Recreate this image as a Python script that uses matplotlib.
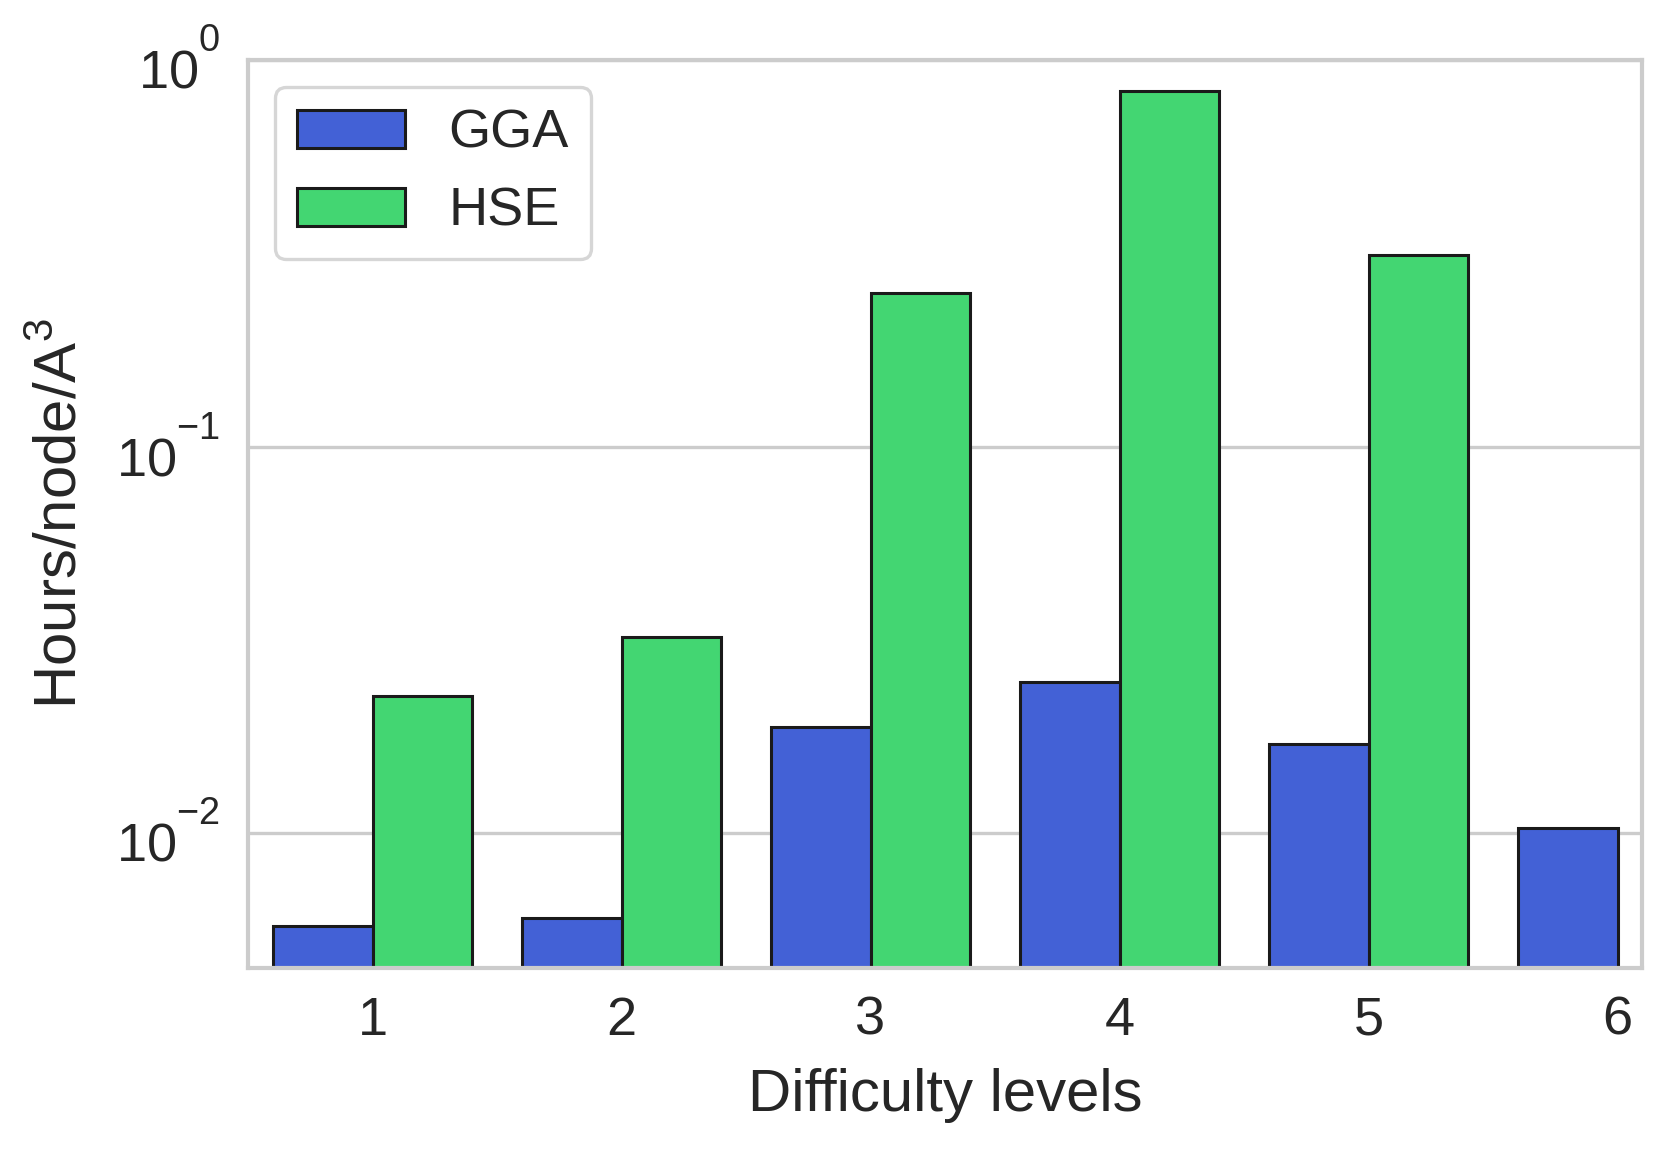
import matplotlib
matplotlib.use("Agg")
import matplotlib.pyplot as plt
import numpy as np

# Tick-label exponents sit higher than matplotlib's default in the reference
try:
    from matplotlib import _mathtext

    class _HighSup(_mathtext.FontConstantsBase):
        sup1 = 1.35

    _mathtext._font_constant_mapping["Liberation Sans"] = _HighSup
except Exception:
    pass

levels = ["1", "2", "3", "4", "5", "6"]
gga = [0.00575, 0.00603, 0.0188, 0.0246, 0.0170, 0.0103]
hse = [0.0226, 0.0321, 0.250, 0.83, 0.313, np.nan]
series_names = ["GGA", "HSE"]
colors = ["#4361D6", "#43D672"]

plt.rcParams["font.family"] = ["Liberation Sans", "DejaVu Sans"]
plt.rcParams["mathtext.fontset"] = "dejavusans"

fs = 19.5
lfs = 21.6
fig = plt.figure(figsize=(8.38, 5.765), dpi=200)
ax = fig.add_axes([0.148, 0.1605, 0.832, 0.7875])

x = np.arange(len(levels))
w = 0.4
for i, (vals, name, c) in enumerate(zip([gga, hse], series_names, colors)):
    ax.bar(x + (i - 0.5) * w, vals, width=w, color=c, edgecolor="#1a1a1a",
           linewidth=1.1, label=name, zorder=2)

ax.set_yscale("log")
ax.set_ylim(0.00448, 1.0)
ax.set_xlim(-0.5, 5.1)
ax.set_xticks(x)
ax.set_xticklabels(levels)
ax.yaxis.set_minor_locator(matplotlib.ticker.NullLocator())

ax.grid(axis="y", color="#cccccc", linewidth=1.2, zorder=0)
ax.set_axisbelow(True)
for s in ax.spines.values():
    s.set_color("#cccccc")
    s.set_linewidth(1.5)
ax.tick_params(axis="both", which="both", length=0, labelsize=fs,
               colors="#262626", pad=10)
ax.set_xlabel("Difficulty levels", fontsize=lfs, color="#262626", labelpad=8)
ax.set_ylabel(r"Hours/node/A$^{\mathdefault{3}}$", fontsize=lfs,
              color="#262626", labelpad=10)

leg = ax.legend(loc="upper left", fontsize=fs, frameon=True, fancybox=True,
                borderpad=0.4, handleheight=0.7, handlelength=2.0,
                labelspacing=0.52, handletextpad=0.8)
leg.get_frame().set_edgecolor("#cccccc")
leg.get_frame().set_linewidth(1.2)
for t in leg.get_texts():
    t.set_color("#262626")

fig.savefig("out.png", dpi=200)
